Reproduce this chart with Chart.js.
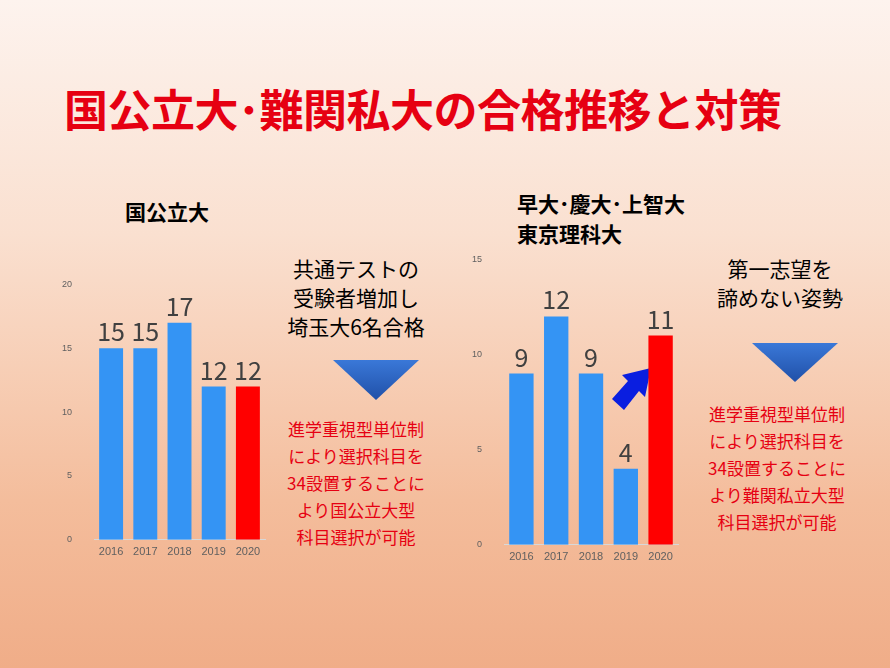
<!DOCTYPE html><html><head><meta charset="utf-8">
<script src="https://cdn.jsdelivr.net/npm/chart.js@4"></script>
<style>
body{margin:0;width:890px;height:668px;overflow:hidden;font-family:"Noto Sans CJK JP",sans-serif;}
#bg{position:absolute;left:0;top:0;width:890px;height:668px;background:linear-gradient(#fdf3ee 0%,#fae0d0 35%,#f4bd9c 75%,#f0ad88 100%);}
.t{position:absolute;white-space:nowrap;}
.red{color:#e60012;}
.wrap{position:absolute;}
</style></head><body><div id="bg"></div>
<div class="t red" style="left:64px;top:76px;font-size:44px;font-weight:bold;letter-spacing:-0.5px">国公立大･難関私大の合格推移と対策</div>
<div class="t" style="left:125px;top:196px;font-size:21px;font-weight:bold">国公立大</div>
<div class="t" style="left:517px;top:188px;font-size:21px;font-weight:bold;line-height:30px">早大･慶大･上智大<br>東京理科大</div>
<div class="t" style="left:280px;top:254px;width:152px;text-align:center;font-size:21px;line-height:29px">共通テストの<br>受験者増加し<br>埼玉大6名合格</div>
<div class="t" style="left:700px;top:254px;width:160px;text-align:center;font-size:21px;line-height:29px">第一志望を<br>諦めない姿勢</div>
<div class="t red" style="left:278px;top:415px;width:156px;text-align:center;font-size:17px;line-height:27px">進学重視型単位制<br>により選択科目を<br>34設置することに<br>より国公立大型<br>科目選択が可能</div>
<div class="t red" style="left:688px;top:400px;width:178px;text-align:center;font-size:17px;line-height:27px">進学重視型単位制<br>により選択科目を<br>34設置することに<br>より難関私立大型<br>科目選択が可能</div>
<svg style="position:absolute;left:0;top:0" width="890" height="668">
<defs><linearGradient id="g" x1="0" y1="0" x2="0" y2="1"><stop offset="0" stop-color="#3a78d8"/><stop offset="1" stop-color="#2050a8"/></linearGradient></defs>
<polygon points="333,360 419,360 376,400" fill="url(#g)"/>
<polygon points="752,343 838,343 795,382" fill="url(#g)"/>
<polygon points="612,399 628,381 622,375 651,368 645,397 639,391 624,410" fill="#0a1ee0"/>
</svg>
<div class="wrap" style="left:48px;top:265px;width:225px;height:300px"><canvas id="c1"></canvas></div>
<div class="wrap" style="left:458px;top:240px;width:228px;height:330px"><canvas id="c2"></canvas></div>
<script>
const years=["2016","2017","2018","2019","2020"];
const nat=[15,15,17,12,12];
const priv=[9,12,9,4,11];
const colors=["#3494f4","#3494f4","#3494f4","#3494f4","#ff0000"];
const lbl={id:'lbl',afterDatasetsDraw(c){const ctx=c.ctx;const m=c.getDatasetMeta(0);ctx.save();ctx.font='25px "Noto Sans CJK JP"';ctx.fillStyle='#404040';ctx.textAlign='center';ctx.textBaseline='bottom';m.data.forEach((b,i)=>ctx.fillText(c.data.datasets[0].data[i],b.x,b.y-4));ctx.restore();}};
function mk(id,data,max,step){new Chart(document.getElementById(id),{type:'bar',data:{labels:years,datasets:[{data,backgroundColor:colors,barPercentage:0.7,categoryPercentage:1}]},plugins:[lbl],options:{responsive:true,maintainAspectRatio:false,animation:false,plugins:{legend:{display:false},tooltip:{enabled:false}},layout:{padding:{top:8,right:8}},scales:{x:{grid:{display:false,drawTicks:false},border:{color:'#d8d8d8'},ticks:{color:'#606060',font:{size:11},padding:6}},y:{min:0,max,ticks:{stepSize:step,color:'#606060',font:{size:9},padding:14},grid:{display:false},border:{display:false}}}}});}
mk('c1',nat,20,5);mk('c2',priv,15,5);
</script></body></html>
